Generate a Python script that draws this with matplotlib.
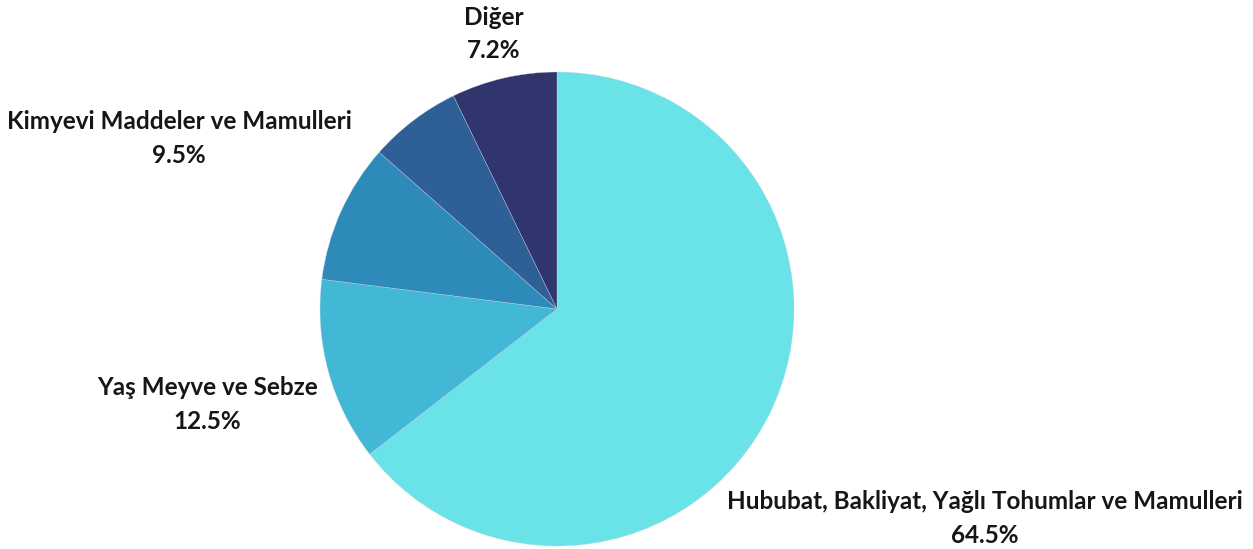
import matplotlib.pyplot as plt
import numpy as np

# data
categories = ['Hububat, Bakliyat, Yağlı Tohumlar ve Mamulleri',
              'Yaş Meyve ve Sebze',
              'Kimyevi Maddeler ve Mamulleri',
              '',  # small slice, no label shown in the chart
              'Diğer']
shares = [64.5, 12.5, 9.5, 6.3, 7.2]
colors = ['#6AE3E8', '#42B7D6', '#2E8AB9', '#2E5F97', '#31356D']
# how far out each label sits (in pie radii), labels run along the slice middle
label_dist = [2.01, 1.53, 1.75, 1.3, 1.19]

W, H = 1253, 549
fig = plt.figure(figsize=(W / 100, H / 100), dpi=100)
ax = fig.add_axes([0, 0, 1, 1])

cx, cy, r = 557, H - 309, 237
wedges, _ = ax.pie(shares, colors=colors, startangle=90, counterclock=False,
                   center=(cx, cy), radius=r,
                   wedgeprops=dict(edgecolor='#c8d2e4', linewidth=0.25))

for w, name, val, d in zip(wedges, categories, shares, label_dist):
    if not name:
        continue
    mid = np.deg2rad((w.theta1 + w.theta2) / 2)
    x = cx + d * r * np.cos(mid)
    y = cy + d * r * np.sin(mid)
    ax.text(x, y, f'{name}\n{val}%', ha='center', va='center',
            fontsize=17.5, fontweight='bold', family=['Lato', 'DejaVu Sans'],
            color='#161616', linespacing=1.55)

ax.set_xlim(0, W)
ax.set_ylim(0, H)
ax.set_aspect('equal')
ax.axis('off')

fig.savefig('out.png', dpi=100)
